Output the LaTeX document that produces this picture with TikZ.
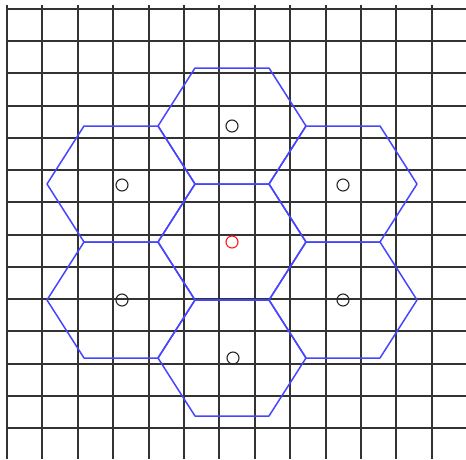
\documentclass[tikz,border=0pt]{standalone}
\begin{document}
\begin{tikzpicture}[x=1pt,y=-1pt,
  gridline/.style={draw=black!80,line width=2pt},
  hexline/.style={draw={rgb,255:red,70;green,70;blue,255},line width=1.5pt,line join=round},
  cellmark/.style={circle,draw=black!85,line width=1.1pt,minimum size=12pt,inner sep=0pt},
  basemark/.style={circle,draw=red!90,line width=1.1pt,minimum size=12pt,inner sep=0pt}]
\useasboundingbox (0,0) rectangle (466,459);
% grid
\foreach \k in {0,...,12} {\draw[gridline] ({7+35.4*\k},5) -- ({7+35.4*\k},459);}
\foreach \k in {0,...,13} {\draw[gridline] (7,{9+32.23*\k}) -- (466,{9+32.23*\k});}
% hexagons
\foreach \cx/\cy in {232/242, 232/126, 232/358, 121/184, 343/184, 121/300, 343/300} {
  \draw[hexline] (\cx-74,\cy) -- (\cx-37,\cy-58) -- (\cx+37,\cy-58) -- (\cx+74,\cy)
    -- (\cx+37,\cy+58) -- (\cx-37,\cy+58) -- cycle;
}
% markers
\node[basemark] (c0) at (232,242) {};
\node[cellmark] (c1) at (232,126) {};
\node[cellmark] (c2) at (233,358) {};
\node[cellmark] (c3) at (122,185) {};
\node[cellmark] (c4) at (343,185) {};
\node[cellmark] (c5) at (122,300) {};
\node[cellmark] (c6) at (343,300) {};
\end{tikzpicture}
\end{document}
